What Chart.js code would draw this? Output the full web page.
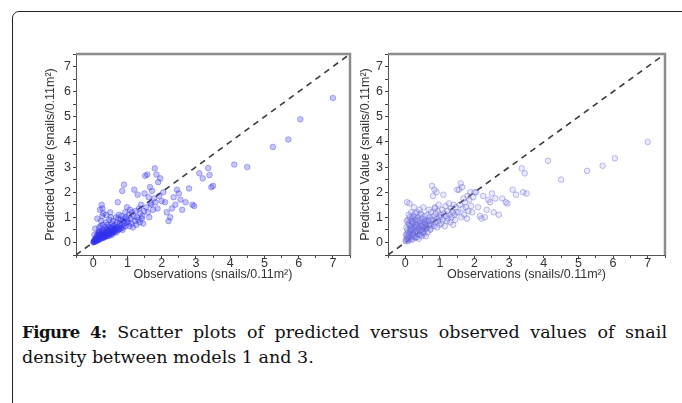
<!DOCTYPE html>
<html>
<head>
<meta charset="utf-8">
<script src="https://cdn.jsdelivr.net/npm/chart.js@4.4.1/dist/chart.umd.min.js"></script>
<style>
  html, body { margin: 0; padding: 0; background: #fff; }
  body { width: 682px; height: 403px; position: relative; overflow: hidden; }
  .frame { position: absolute; left: 12px; top: 11px; width: 720px; height: 440px;
           border: 1.5px solid #222; border-radius: 7px; box-sizing: border-box; }
  .plot { position: absolute; top: 44px; height: 238px; }
  #p1 { left: 43px; width: 313px; }
  #p2 { left: 358px; width: 313px; }
  .caption { position: absolute; left: 22px; top: 320px; width: 645px;
             font-family: "DejaVu Serif", serif; font-size: 17.5px; line-height: 25px; color: #111;
             text-align: justify; text-align-last: left; }
  .caption b { font-weight: bold; font-size: 16.5px; letter-spacing: -0.5px; }
</style>
</head>
<body>
<div class="frame"></div>
<div class="plot" id="p1"><canvas id="c1"></canvas></div>
<div class="plot" id="p2"><canvas id="c2"></canvas></div>
<div class="caption"><b>Figure 4:</b> Scatter plots of predicted versus observed values of snail density between models 1 and 3.</div>

<script>
// observed snail density (shared by both models)
const observed = [
  0.01,0.02,0.04,0.06,0.08,0.09,0.11,0.13,0.14,0.16,
  0.19,0.21,0.23,0.26,0.29,0.32,0.35,0.37,0.40,0.43,
  0.46,0.48,0.52,0.55,0.58,0.61,0.65,0.69,0.74,0.79,
  0.02,0.03,0.05,0.05,0.07,0.08,0.09,0.10,0.10,0.11,
  0.12,0.13,0.14,0.15,0.15,0.16,0.17,0.18,0.18,0.19,
  0.20,0.20,0.21,0.22,0.23,0.24,0.25,0.25,0.26,0.27,
  0.28,0.28,0.29,0.30,0.04,0.06,0.12,0.17,0.22,0.27,
  0.31,0.32,0.33,0.34,0.35,0.36,0.37,0.38,0.39,0.40,
  0.41,0.42,0.43,0.44,0.45,0.46,0.47,0.48,0.49,0.50,
  0.51,0.52,0.53,0.54,0.55,0.56,0.57,0.58,0.59,0.60,
  0.33,0.38,0.44,0.50,0.56,
  0.62,0.64,0.65,0.67,0.68,0.70,0.71,0.73,0.74,0.75,
  0.77,0.78,0.80,0.81,0.83,0.84,0.85,0.87,0.88,0.90,
  0.91,0.92,0.94,0.95,0.96,0.98,0.99,1.00,0.72,0.86,
  1.02,1.04,1.06,1.08,1.10,1.12,1.14,1.16,1.18,1.20,
  1.22,1.24,1.26,1.28,1.30,1.32,1.34,1.36,1.38,1.40,
  1.42,1.44,1.46,1.48,1.50,
  1.52,1.55,1.58,1.60,1.62,1.64,1.66,1.68,1.70,1.72,
  1.75,1.78,1.80,1.82,1.85,1.88,1.90,1.93,1.96,2.00,
  2.05,2.10,2.15,2.20,2.25,2.30,2.35,2.40,2.45,2.50,
  2.55,2.60,2.70,2.80,2.90,3.10,3.20,3.40,3.45,3.50,
  3.36,2.95,
  4.12,4.50,5.25,5.70,6.05,7.00
];

// model 1 predictions
const predModel1 = [
  0.00,0.03,0.06,0.05,0.10,0.08,0.12,0.09,0.16,0.14,
  0.18,0.12,0.22,0.17,0.25,0.20,0.28,0.24,0.30,0.27,
  0.35,0.32,0.38,0.34,0.42,0.40,0.45,0.50,0.52,0.58,
  0.02,0.05,0.08,0.12,0.04,0.15,0.10,0.20,0.06,0.25,
  0.14,0.30,0.18,0.35,0.10,0.45,0.22,0.28,0.60,0.15,
  0.32,1.30,0.40,0.25,0.85,0.30,1.50,0.45,0.20,1.35,
  0.38,0.70,0.50,1.15,0.30,0.55,0.95,0.40,0.65,1.05,
  0.20,0.35,0.45,0.28,0.60,0.25,0.40,1.10,0.50,0.30,
  0.55,0.38,0.70,0.45,0.25,0.62,0.90,0.48,0.35,0.58,
  0.42,1.00,0.52,0.30,0.75,0.60,0.40,0.85,0.50,0.65,
  0.22,0.80,0.34,1.20,0.45,
  0.45,0.70,0.55,1.00,0.40,0.80,0.60,0.95,0.50,1.10,
  0.65,0.75,0.90,0.55,1.05,0.70,2.05,0.85,0.60,2.30,
  0.95,0.75,1.20,0.65,1.00,0.80,1.40,0.90,1.60,0.50,
  0.80,1.10,0.65,1.30,0.95,0.75,1.20,0.60,1.05,2.10,
  0.85,1.25,0.70,1.00,1.90,0.90,1.35,0.80,1.15,1.50,
  0.95,1.05,0.75,1.25,1.95,
  2.65,1.40,2.70,1.20,1.80,1.00,2.20,1.55,1.50,2.05,
  1.30,1.75,2.95,1.60,2.70,1.35,2.40,1.85,2.55,1.65,
  2.00,1.60,1.20,0.85,1.00,1.35,1.80,1.50,2.10,1.95,
  1.70,1.30,1.60,2.15,1.50,2.75,2.55,2.68,2.20,2.25,
  2.96,1.45,
  3.10,3.00,3.80,4.10,4.90,5.75
];

// model 3 predictions
const predModel3 = [
  0.05,0.30,0.15,0.50,0.20,0.75,0.10,0.40,0.65,0.25,
  0.55,0.85,0.35,0.60,0.20,0.70,0.45,0.90,0.30,0.65,
  0.50,0.80,0.40,0.60,0.75,0.55,0.85,0.70,0.65,0.90,
  0.10,0.60,0.25,1.60,0.05,0.90,0.40,0.15,1.10,0.70,
  0.30,1.00,0.55,0.20,0.85,0.45,1.20,0.10,0.65,0.95,
  0.35,0.80,0.15,1.05,0.50,0.75,1.40,0.25,0.60,0.90,
  0.45,1.15,0.20,0.70,0.85,0.35,1.55,0.50,0.30,1.00,
  0.40,0.90,0.20,1.20,0.60,0.35,1.00,0.75,0.15,0.55,
  1.30,0.45,0.85,0.30,0.65,1.10,0.50,0.25,0.95,0.70,
  0.40,1.40,0.60,0.80,0.35,1.05,0.55,0.90,0.25,0.75,
  0.65,0.50,1.15,0.45,0.85,
  0.60,1.10,0.40,0.85,1.30,0.70,1.00,0.55,1.20,0.90,
  2.25,0.75,1.85,1.05,0.65,2.10,1.40,0.80,1.15,2.00,
  0.95,0.60,1.25,0.85,1.50,1.00,0.70,1.10,0.50,1.35,
  1.00,0.75,1.30,0.90,1.90,1.15,0.65,1.45,1.05,0.85,
  1.25,0.95,1.55,1.10,0.80,1.35,1.00,1.20,0.70,1.50,
  1.10,0.90,1.40,1.20,2.10,
  1.20,2.10,1.50,2.35,1.00,2.20,1.35,1.75,1.10,1.60,
  1.40,0.95,1.85,1.25,1.70,2.00,1.45,1.20,1.80,2.00,
  2.00,1.40,1.05,0.95,1.85,1.00,1.30,1.70,1.60,1.95,
  1.20,1.75,1.10,1.75,1.60,2.10,1.90,2.00,2.75,1.95,
  2.95,1.55,
  3.25,2.50,2.85,3.05,3.35,4.00
];

// 1:1 reference line end points
const diagonal = [-0.5, 7.5];
const tickValues = [0, 1, 2, 3, 4, 5, 6, 7];

const frameBox = {
  id: 'frameBox',
  afterDraw(chart) {
    const { ctx, chartArea: a } = chart;
    ctx.save();
    ctx.strokeStyle = '#8c8c8c';
    ctx.lineWidth = 2.5;
    ctx.beginPath();
    ctx.moveTo(a.left, a.top);
    ctx.lineTo(a.right, a.top);
    ctx.lineTo(a.right, a.bottom);
    ctx.stroke();
    ctx.restore();
  }
};

function axis(title, fit, pad) {
  return {
    type: 'linear', min: -0.5, max: 7.5,
    ticks: {
      stepSize: 0.5, autoSkip: false, maxRotation: 0, color: '#333', padding: pad,
      font: { family: 'Liberation Sans', size: 12.5 },
      callback: v => tickValues.includes(v) ? String(v) : ''
    },
    grid: { drawOnChartArea: false, drawTicks: true, tickLength: 3, color: '#444' },
    border: { display: true, color: '#555', width: 1 },
    title: { display: true, text: title, color: '#333', padding: 0,
             font: { family: 'Liberation Sans', size: 12.5 } },
    afterFit: fit
  };
}

function makeChart(id, preds, fill, stroke, yWidth) {
  new Chart(document.getElementById(id), {
    type: 'scatter',
    data: {
      datasets: [
        {
          data: observed.map((x, i) => ({ x, y: preds[i] })),
          backgroundColor: fill, borderColor: stroke, borderWidth: 1, pointRadius: 2.8
        },
        {
          type: 'line',
          data: diagonal.map(v => ({ x: v, y: v })),
          borderColor: '#3a3a3a', borderWidth: 1.6, borderDash: [6, 5],
          pointRadius: 0, fill: false
        }
      ]
    },
    options: {
      responsive: true, maintainAspectRatio: false, animation: false,
      layout: { padding: { top: 10, right: 6, left: 0, bottom: 0 } },
      plugins: { legend: { display: false }, tooltip: { enabled: false } },
      scales: {
        x: axis('Observations (snails/0.11m²)', s => { s.height = 27; }, -2),
        y: axis('Predicted Value (snails/0.11m²)', s => { s.width = yWidth; }, 2)
      }
    },
    plugins: [frameBox]
  });
}

makeChart('c1', predModel1, 'rgba(50,50,240,0.28)', 'rgba(50,50,235,0.36)', 33);
makeChart('c2', predModel3, 'rgba(130,130,235,0.16)', 'rgba(100,100,215,0.42)', 30);
</script>
</body>
</html>
